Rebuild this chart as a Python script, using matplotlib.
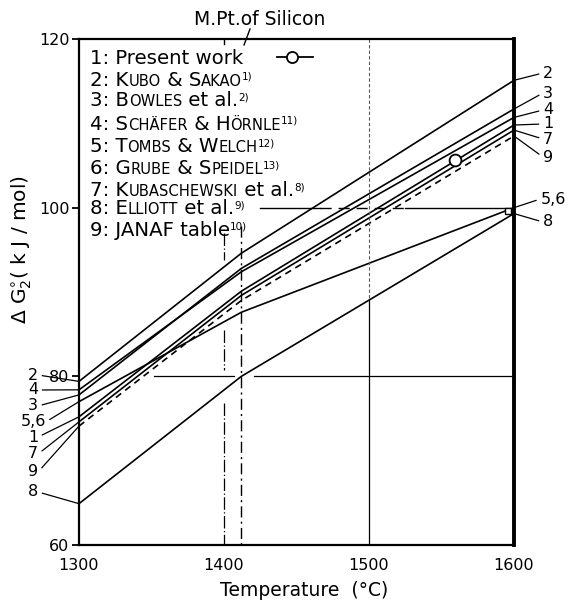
import matplotlib
matplotlib.use('Agg')
import matplotlib.pyplot as plt
from matplotlib.transforms import IdentityTransform
from matplotlib.lines import Line2D

plt.rcParams['font.family'] = ['DejaVu Sans']

# ---------------- data ----------------
T = [1300, 1412, 1600]            # temperature (°C); kink at M.Pt. of Si
line1 = [75.2, 90.1, 109.8]       # Present work
line2 = [79.4, 94.6, 115.1]       # Kubo & Sakao
line3 = [77.8, 92.8, 111.7]       # Bowles et al.
line4 = [78.4, 92.4, 110.7]       # Schäfer & Hörnle
line56 = [77.0, 87.6, 100.0]      # Tombs & Welch / Grube & Speidel
line7 = [74.6, 89.6, 109.2]       # Kubaschewski et al.
line9 = [74.1, 89.0, 108.5]       # JANAF table (dashed)
line8 = [64.9, 80.0, 99.3]        # Elliott et al.

present_T = [1559]
present_G = [105.6]
mark_T = [1596]
mark_G = [99.65]

mpt_T = 1412
xticks = [1300, 1400, 1500, 1600]
yticks = [60, 80, 100, 120]

W, H = 571, 601
fig = plt.figure(figsize=(W / 100, H / 100), dpi=100)
ax = fig.add_axes([79 / W, 1 - 545 / H, (514 - 79) / W, (545 - 39) / H])
ax.set_xlim(1300, 1600)
ax.set_ylim(60, 120)

for s in ['left', 'bottom', 'top']:
    ax.spines[s].set_linewidth(1.6)
ax.spines['right'].set_linewidth(2.8)

ax.set_xticks(xticks)
ax.set_xticklabels([str(v) for v in xticks], fontsize=11.5)
ax.tick_params(axis='x', length=0, pad=9)
ax.set_yticks(yticks)
ax.set_yticklabels([str(v) for v in yticks], fontsize=11.5)
ax.tick_params(axis='y', length=5, width=1.3, direction='out', pad=2)

lw = 1.2
for y in [line1, line2, line3, line4, line56, line7, line8]:
    ax.plot(T, y, color='black', lw=lw, solid_joinstyle='miter')
ax.plot(T, line9, color='black', lw=1.2, linestyle=(0, (4, 3)))
ax.plot(present_T, present_G, 'o', ms=8.5, mfc='white', mec='black', mew=1.3, zorder=5)
ax.plot(mark_T, mark_G, 's', ms=5, mfc='white', mec='black', mew=1.0, zorder=5)

# reference lines
ax.plot([1352, 1407], [80, 80], color='black', lw=0.9)
ax.plot([1421, 1600], [80, 80], color='black', lw=0.9)
ax.plot([1425, 1466], [100, 100], color='black', lw=1.0)
ax.plot([1466, 1525], [100, 100], color='black', lw=1.0, linestyle=(0, (8, 5)))
ax.plot([1525, 1600], [100, 100], color='black', lw=1.0)
ax.plot([1400, 1400], [97.0, 93.8], color='black', lw=0.9, linestyle=(0, (10, 2, 1, 2)))
ax.plot([1400, 1400], [85.5, 80.7], color='black', lw=0.9, linestyle=(0, (10, 2, 1, 2)))
ax.plot([1400, 1400], [76.8, 60], color='black', lw=0.9, linestyle=(0, (10, 2, 1, 2)))
ax.plot([1400, 1400], [120, 119.4], color='black', lw=1.0)
ax.plot([mpt_T, mpt_T], [97.8, 60], color='black', lw=1.0, linestyle=(0, (8, 3, 1.5, 3)))
ax.plot([1500, 1500], [120, 89], color='0.35', lw=0.8, linestyle=(0, (3, 2)))
ax.plot([1500, 1500], [89, 60], color='black', lw=0.9)

# ---------------- legend rows (small caps) ----------------
ident = IdentityTransform()
renderer = fig.canvas.get_renderer()
B, S, SUP, RISE = 14.2, 10.6, 7.5, 6


def rich(x, yc, segs):
    yb = H - (yc + 6.5)
    for txt, size, rise in segs:
        t = fig.text(x, yb + rise, txt, fontsize=size, transform=ident,
                     ha='left', va='baseline')
        x += t.get_window_extent(renderer=renderer).width
    return x


rows = [
    [("1: Present work", B, 0)],
    [("2: K", B, 0), ("UBO", S, 0), (" & S", B, 0), ("AKAO", S, 0), ("1)", SUP, RISE)],
    [("3: B", B, 0), ("OWLES", S, 0), (" et al.", B, 0), ("2)", SUP, RISE)],
    [("4: S", B, 0), ("CHÄFER", S, 0), (" & H", B, 0), ("ÖRNLE", S, 0), ("11)", SUP, RISE)],
    [("5: T", B, 0), ("OMBS", S, 0), (" & W", B, 0), ("ELCH", S, 0), ("12)", SUP, RISE)],
    [("6: G", B, 0), ("RUBE", S, 0), (" & S", B, 0), ("PEIDEL", S, 0), ("13)", SUP, RISE)],
    [("7: K", B, 0), ("UBASCHEWSKI", S, 0), (" et al.", B, 0), ("8)", SUP, RISE)],
    [("8: E", B, 0), ("LLIOTT", S, 0), (" et al.", B, 0), ("9)", SUP, RISE)],
    [("9: JANAF table", B, 0), ("10)", SUP, RISE)],
]
row_y = [57, 79, 100, 123, 146, 168, 190, 208, 229]
for segs, yc in zip(rows, row_y):
    rich(90, yc, segs)

fig.add_artist(Line2D([277, 313], [H - 57, H - 57], transform=ident, color='black', lw=1.3))
fig.add_artist(Line2D([292], [H - 57], transform=ident, marker='o', ms=8, mfc='white',
                      mec='black', mew=1.3, linestyle='none'))

# ---------------- M.Pt label ----------------
fig.text(260, H - 25, "M.Pt.of Silicon", fontsize=13.5, transform=ident, ha='center', va='baseline')
fig.add_artist(Line2D([250, 244], [H - 29, H - 45], transform=ident, color='black', lw=1.0))

# ---------------- line labels ----------------
left_labels = [("2", line2, 375), ("4", line4, 390), ("3", line3, 406), ("5,6", line56, 422),
               ("1", line1, 437), ("7", line7, 454), ("9", line9, 472), ("8", line8, 492)]
for lab, arr, py in left_labels:
    ax.annotate(lab, xy=(T[0], arr[0]), xycoords='data', xytext=(33, H - py),
                textcoords='figure pixels', ha='center', va='center', fontsize=11.5,
                annotation_clip=False,
                arrowprops=dict(arrowstyle='-', lw=0.9, color='black', shrinkA=1, shrinkB=0,
                                relpos=(1, 0.5)))

right_labels = [("2", line2, 73), ("3", line3, 93), ("4", line4, 110), ("1", line1, 124),
                ("7", line7, 139), ("9", line9, 157), ("5,6", line56, 199), ("8", line8, 222)]
for lab, arr, py in right_labels:
    xt = 553 if lab == "5,6" else 548
    ax.annotate(lab, xy=(T[-1], arr[-1]), xycoords='data', xytext=(xt, H - py),
                textcoords='figure pixels', ha='center', va='center', fontsize=11.5,
                annotation_clip=False,
                arrowprops=dict(arrowstyle='-', lw=0.9, color='black', shrinkA=1, shrinkB=0,
                                relpos=(0, 0.5)))

# ---------------- axis labels ----------------
fig.text(304, H - 591, "Temperature  (°C)", fontsize=13.5, transform=ident, ha='center', va='center')
fig.text(22, H - 250, r"$\Delta$ G$_2^{\circ}$( k J / mol)", fontsize=14.5, rotation=90,
         transform=ident, ha='center', va='center')

fig.savefig('out.png', dpi=100)
